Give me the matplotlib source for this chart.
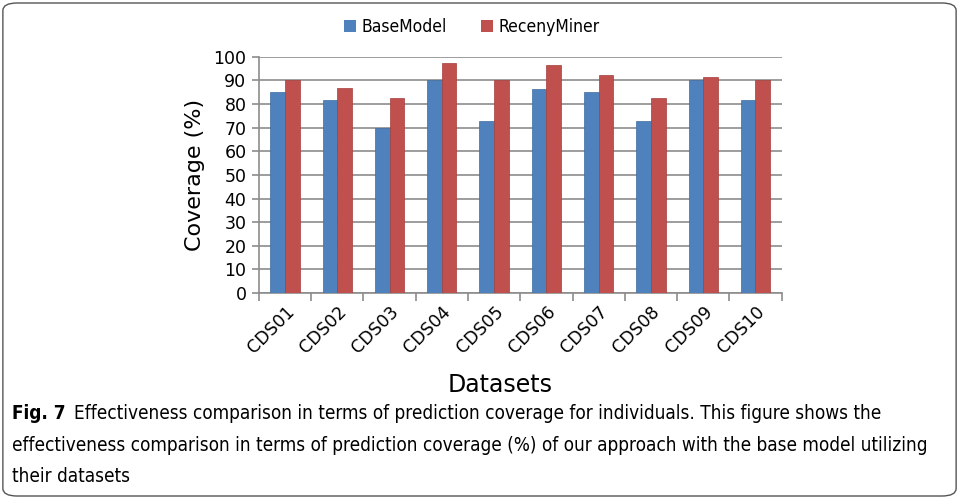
import numpy as np
import matplotlib.pyplot as plt
from matplotlib import font_manager
from matplotlib.patches import FancyBboxPatch, Patch

# coverage (%) per dataset
datasets = ["CDS01", "CDS02", "CDS03", "CDS04", "CDS05",
            "CDS06", "CDS07", "CDS08", "CDS09", "CDS10"]
base_model = [85.2, 81.8, 70, 90, 72.7, 86.6, 85.3, 72.7, 90, 81.8]
receny_miner = [90, 86.7, 82.5, 97.2, 90, 96.5, 92.3, 82.5, 91.6, 90]

caption_lines = [
    "Effectiveness comparison in terms of prediction coverage for individuals. This figure shows the",
    "effectiveness comparison in terms of prediction coverage (%) of our approach with the base model utilizing",
    "their datasets",
]

blue = "#4F81BD"
red = "#C0504D"
grid_col = "#8C8C8C"

fig = plt.figure(figsize=(9.59, 4.99), dpi=100)
ax = fig.add_axes([0.270, 0.413, 0.545, 0.473])

x = np.arange(len(datasets))
w = 0.28
ax.bar(x - w / 2, base_model, w, color=blue, edgecolor="#3E6C9F", linewidth=0.5, zorder=3)
ax.bar(x + w / 2, receny_miner, w, color=red, edgecolor="#A33E3B", linewidth=0.5, zorder=3)

ax.set_xlim(-0.5, len(datasets) - 0.5)
ax.set_ylim(0, 100)
ax.set_yticks(range(0, 101, 10))
ax.yaxis.grid(True, color=grid_col, linewidth=1.2, zorder=0)
ax.set_axisbelow(True)

for s in ["top", "right"]:
    ax.spines[s].set_visible(False)
for s in ["left", "bottom"]:
    ax.spines[s].set_color(grid_col)
    ax.spines[s].set_linewidth(1.2)

ax.set_xticks(x)
ax.set_xticklabels(datasets, rotation=45, ha="right", rotation_mode="anchor", fontsize=12.5)
ax.tick_params(axis="x", which="major", length=0, pad=7)
ax.set_xticks(np.arange(-0.5, len(datasets)), minor=True)
ax.tick_params(axis="x", which="minor", length=6, color=grid_col, width=1.2)
ax.tick_params(axis="y", length=5, color=grid_col, width=1.2, labelsize=12.5, pad=4)

ax.set_ylabel("Coverage (%)", fontsize=16, labelpad=6)
fig.text(0.522, 0.228, "Datasets", fontsize=17, ha="center", va="center")

cond = font_manager.FontProperties(family="DejaVu Sans", stretch="condensed")

handles = [Patch(facecolor=blue), Patch(facecolor=red)]
fig.legend(handles, ["BaseModel", "RecenyMiner"], loc="center", bbox_to_anchor=(0.492, 0.946),
           ncol=2, frameon=False, prop=font_manager.FontProperties(family="DejaVu Sans",
                                                                     stretch="condensed", size=12.5),
           handlelength=0.7, handleheight=0.7, handletextpad=0.3, columnspacing=2.0)

# caption box
box = FancyBboxPatch((0.003, 0.006), 0.994, 0.988, boxstyle="round,pad=0,rounding_size=0.015",
                     transform=fig.transFigure, facecolor="none", edgecolor="#555555", linewidth=1)
fig.patches.append(box)

cap_size = 13
bold = fig.text(0.013, 0.160, "Fig. 7", fontproperties=cond, va="baseline")
bold.set_fontweight("bold")
bold.set_fontsize(cap_size)
y_lines = [0.160, 0.097, 0.035]
x_starts = [0.072, 0.013, 0.013]
texts = []
for s, yy, xx in zip(caption_lines, y_lines, x_starts):
    t = fig.text(xx, yy, s, fontproperties=cond, va="baseline")
    t.set_fontsize(cap_size)
    texts.append(t)

# size caption so the longest line ends near the right edge
fig.canvas.draw()
r = fig.canvas.get_renderer()
right = texts[1].get_window_extent(r).x1
scale = (928 - 12) / (right - 12)
for t in texts + [bold]:
    t.set_fontsize(cap_size * scale)
fig.canvas.draw()
texts[0].set_x((bold.get_window_extent(r).x1 + 8) / fig.bbox.width)

fig.savefig("out.png", dpi=100)
